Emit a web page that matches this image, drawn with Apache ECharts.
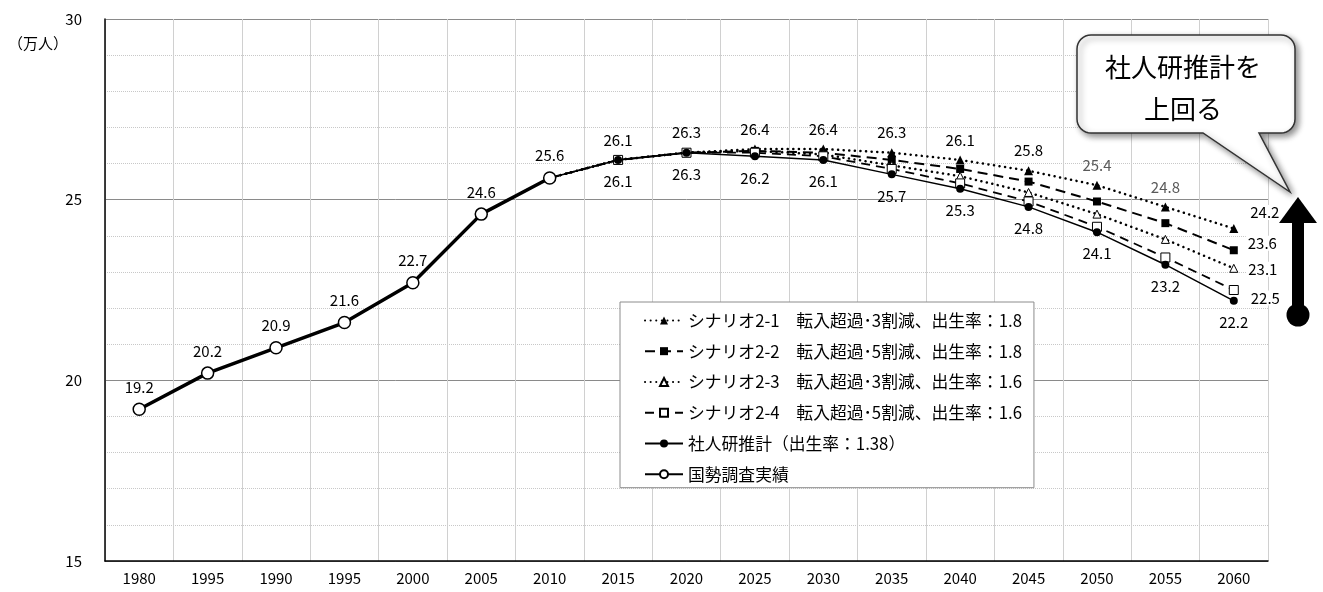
<!DOCTYPE html>
<html>
<head>
<meta charset="utf-8">
<script src="https://cdn.jsdelivr.net/npm/echarts@6/dist/echarts.min.js"></script>
<style>
html,body{margin:0;padding:0;background:#fff;}
#chart{width:1323px;height:592px;}
</style>
</head>
<body>
<div id="chart"></div>
<script>
// ---- data ----
var categories = ['1980','1995','1990','1995','2000','2005','2010','2015','2020','2025','2030','2035','2040','2045','2050','2055','2060'];
var yTicks = [15, 20, 25, 30];
var actual   = [19.2, 20.2, 20.9, 21.6, 22.7, 24.6, 25.6, null, null, null, null, null, null, null, null, null, null];
var shajinken= [null, null, null, null, null, null, 25.6, 26.1, 26.3, 26.2, 26.1, 25.7, 25.3, 24.8, 24.1, 23.2, 22.2];
var s21      = [null, null, null, null, null, null, 25.6, 26.1, 26.3, 26.4, 26.4, 26.3, 26.1, 25.8, 25.4, 24.8, 24.2];
var s22      = [null, null, null, null, null, null, 25.6, 26.1, 26.3, 26.35, 26.3, 26.1, 25.85, 25.5, 24.95, 24.35, 23.6];
var s23      = [null, null, null, null, null, null, 25.6, 26.1, 26.3, 26.35, 26.25, 25.95, 25.65, 25.2, 24.6, 23.9, 23.1];
var s24      = [null, null, null, null, null, null, 25.6, 26.1, 26.3, 26.3, 26.2, 25.85, 25.45, 24.95, 24.25, 23.4, 22.5];
var names = [
  'シナリオ2-1　転入超過･3割減、出生率：1.8',
  'シナリオ2-2　転入超過･5割減、出生率：1.8',
  'シナリオ2-3　転入超過･3割減、出生率：1.6',
  'シナリオ2-4　転入超過･5割減、出生率：1.6',
  '社人研推計（出生率：1.38）',
  '国勢調査実績'
];
var calloutLines = ['社人研推計を', '上回る'];
var yUnit = '（万人）';

// ---- styling helpers ----
var FONT = "'Noto Sans CJK JP','Noto Sans',sans-serif";
var START = 6, LAST = categories.length - 1;
function fmt(p){ return Number(p.value).toFixed(1); }

function buildData(arr, labelFn){
  return arr.map(function(v, i){
    if (v === null) return null;
    var item = { value: v };
    if (i === START) item.symbol = 'none';
    var lab = labelFn ? labelFn(i) : null;
    item.label = lab ? lab : { show: false };
    return item;
  });
}

var baseLabel = { show: true, fontSize: 15, color: '#000', fontFamily: FONT, formatter: fmt };
function L(extra){ return Object.assign({}, baseLabel, extra); }

// callout outline (rounded rectangle with a tail), built as a polygon
function calloutPoints(x0, y0, x1, y1, r, ta, tb, tip){
  var pts = [];
  function arc(cx, cy, a0, a1){
    for (var k = 0; k <= 8; k++){
      var a = a0 + (a1 - a0) * k / 8;
      pts.push([cx + r * Math.cos(a), cy + r * Math.sin(a)]);
    }
  }
  var P = Math.PI;
  arc(x0 + r, y0 + r, P, 1.5 * P);
  arc(x1 - r, y0 + r, 1.5 * P, 2 * P);
  arc(x1 - r, y1 - r, 0, 0.5 * P);
  pts.push([tb, y1]); pts.push(tip); pts.push([ta, y1]);
  arc(x0 + r, y1 - r, 0.5 * P, P);
  return pts;
}

var option = {
  animation: false,
  textStyle: { fontFamily: FONT },
  grid: { left: 105, top: 19, right: 55, bottom: 31, containLabel: false },
  legend: {
    orient: 'vertical',
    left: 620, top: 302,
    backgroundColor: '#fff',
    borderColor: '#8c8c8c', borderWidth: 1,
    padding: [10, 12, 5, 24],
    itemGap: 14,
    itemWidth: 38, itemHeight: 10,
    textStyle: { fontSize: 16.8, color: '#000', fontFamily: FONT },
    data: names
  },
  xAxis: {
    type: 'category',
    data: categories,
    boundaryGap: true,
    axisLine: { lineStyle: { color: '#000', width: 1.5 } },
    axisTick: { show: false },
    axisLabel: { fontSize: 15, color: '#000', margin: 10, fontFamily: FONT, interval: 0 },
    splitLine: { show: true, lineStyle: { color: '#d0d0d0', width: 1 } }
  },
  yAxis: {
    type: 'value',
    min: yTicks[0], max: yTicks[yTicks.length-1], interval: 5,
    axisLine: { show: true, lineStyle: { color: '#000', width: 1.5 } },
    axisTick: { show: false },
    axisLabel: { fontSize: 15, color: '#000', margin: 23, fontFamily: FONT },
    splitLine: { show: true, lineStyle: { color: '#8a8a8a', width: 1 } },
    minorTick: { show: false, splitNumber: 5 },
    minorSplitLine: { show: true, lineStyle: { color: '#c8c8c8', width: 1, type: [1, 1] } }
  },
  series: [
    {
      name: names[0], type: 'line', z: 3,
      data: buildData(s21, function(i){
        if (i > START && i < LAST - 2) return L({ position: 'top', distance: 8 });
        if (i === LAST - 2 || i === LAST - 1) return L({ position: 'top', distance: 8, color: '#5a5a5a' });
        if (i === LAST) return L({ position: 'right', distance: 8, offset: [2, -16], backgroundColor: '#fff', padding: [0, 2] });
        return null;
      }),
      symbol: 'triangle', symbolSize: 9,
      itemStyle: { color: '#000' },
      lineStyle: { color: '#000', width: 2.5, type: [0.1, 5.5], cap: 'round' }
    },
    {
      name: names[1], type: 'line', z: 3,
      data: buildData(s22, function(i){
        if (i === LAST) return L({ position: 'right', distance: 8, offset: [0, -7], backgroundColor: '#fff', padding: [0, 2] });
        return null;
      }),
      symbol: 'rect', symbolSize: 8,
      itemStyle: { color: '#000' },
      lineStyle: { color: '#000', width: 2, type: [10, 6] }
    },
    {
      name: names[2], type: 'line', z: 3,
      data: buildData(s23, function(i){
        if (i === LAST) return L({ position: 'right', distance: 8, offset: [0, 1], backgroundColor: '#fff', padding: [0, 2] });
        return null;
      }),
      symbol: 'triangle', symbolSize: 8,
      itemStyle: { color: '#fff', borderColor: '#000', borderWidth: 1 },
      lineStyle: { color: '#000', width: 2.5, type: [0.1, 5.5], cap: 'round' }
    },
    {
      name: names[3], type: 'line', z: 3,
      data: buildData(s24, function(i){
        if (i === LAST) return L({ position: 'right', distance: 10, offset: [0, 8], backgroundColor: '#fff', padding: [0, 2] });
        return null;
      }),
      symbol: 'rect', symbolSize: 9,
      itemStyle: { color: '#fff', borderColor: '#000', borderWidth: 1 },
      lineStyle: { color: '#000', width: 1.8, type: [9, 6] }
    },
    {
      name: names[4], type: 'line', z: 4,
      data: buildData(shajinken, function(i){
        if (i > START) return L({ position: 'bottom', distance: 10 });
        return null;
      }),
      symbol: 'circle', symbolSize: 8,
      itemStyle: { color: '#000' },
      lineStyle: { color: '#000', width: 1.5 }
    },
    {
      name: names[5], type: 'line', z: 5,
      data: actual.slice(),
      symbol: 'circle', symbolSize: 12,
      showSymbol: true,
      itemStyle: { color: '#fff', borderColor: '#000', borderWidth: 1.5 },
      lineStyle: { color: '#000', width: 3.5 },
      label: L({ position: 'top', distance: 8 })
    }
  ],
  graphic: [
    { type: 'text', left: 8, top: 36, style: { text: yUnit, fill: '#000', font: '15px ' + FONT } },
    {
      type: 'polygon', z: 100,
      shape: { points: calloutPoints(1077, 35, 1295, 133, 14, 1203, 1259, [1290, 192]) },
      style: { fill: '#fff', stroke: '#333', lineWidth: 1.5, shadowBlur: 6, shadowColor: 'rgba(0,0,0,0.45)', shadowOffsetX: 3, shadowOffsetY: 3 }
    },
    { type: 'text', z: 101, x: 1183, y: 67, style: { text: calloutLines[0], font: '26px ' + FONT, fill: '#000', align: 'center', verticalAlign: 'middle' } },
    { type: 'text', z: 101, x: 1183, y: 109, style: { text: calloutLines[1], font: '26px ' + FONT, fill: '#000', align: 'center', verticalAlign: 'middle' } },
    { type: 'polygon', z: 100, shape: { points: [[1298, 197], [1279, 223], [1317, 223]] }, style: { fill: '#000' } },
    { type: 'rect', z: 100, shape: { x: 1292, y: 220, width: 12, height: 92 }, style: { fill: '#000' } },
    { type: 'circle', z: 100, shape: { cx: 1298, cy: 315, r: 11.5 }, style: { fill: '#000' } }
  ]
};

var chart = echarts.init(document.getElementById('chart'), null, { renderer: 'canvas' });
chart.setOption(option);
</script>
</body>
</html>
